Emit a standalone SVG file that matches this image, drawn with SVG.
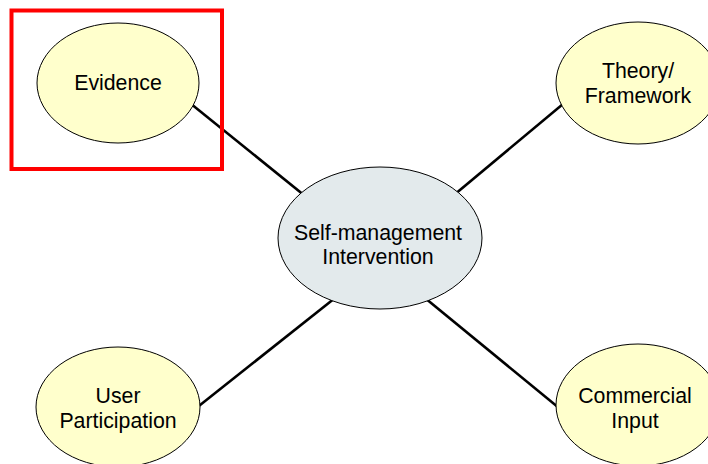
<svg xmlns="http://www.w3.org/2000/svg" width="708" height="464" viewBox="0 0 708 464">
<style>
.node ellipse{stroke:#000;stroke-width:1}
.leaf ellipse{fill:#FFFFCC}
.hub ellipse{fill:#E3EAEC}
text{font-family:"Liberation Sans",Arial,sans-serif;font-size:21.3px;fill:#000;text-anchor:middle}
.conn line{stroke:#000;stroke-width:2.6}
</style>
<rect width="708" height="464" fill="#fff"/>
<g id="connectors" class="conn">
<line x1="180" y1="95" x2="310" y2="200"/>
<line x1="575" y1="94" x2="448" y2="200"/>
<line x1="185" y1="417" x2="335" y2="298"/>
<line x1="425" y1="298" x2="570" y2="417"/>
</g>
<g id="evidence" class="node leaf">
<ellipse cx="118" cy="83" rx="81" ry="60"/>
<text x="118" y="90">Evidence</text>
</g>
<g id="theory" class="node leaf">
<ellipse cx="638" cy="83" rx="82" ry="61"/>
<text x="638" y="78">Theory/</text>
<text x="638" y="103">Framework</text>
</g>
<g id="hub" class="node hub">
<ellipse cx="380" cy="238" rx="102" ry="71"/>
<text x="378" y="240">Self-management</text>
<text x="378" y="264">Intervention</text>
</g>
<g id="user" class="node leaf">
<ellipse cx="118" cy="407" rx="82" ry="60"/>
<text x="118" y="403">User</text>
<text x="118" y="428">Participation</text>
</g>
<g id="commercial" class="node leaf">
<ellipse cx="638" cy="405" rx="82" ry="61"/>
<text x="635" y="403">Commercial</text>
<text x="635" y="428">Input</text>
</g>
<rect id="highlight" x="11.5" y="10.5" width="210.5" height="158.5" fill="none" stroke="#FF0000" stroke-width="4"/>
</svg>
